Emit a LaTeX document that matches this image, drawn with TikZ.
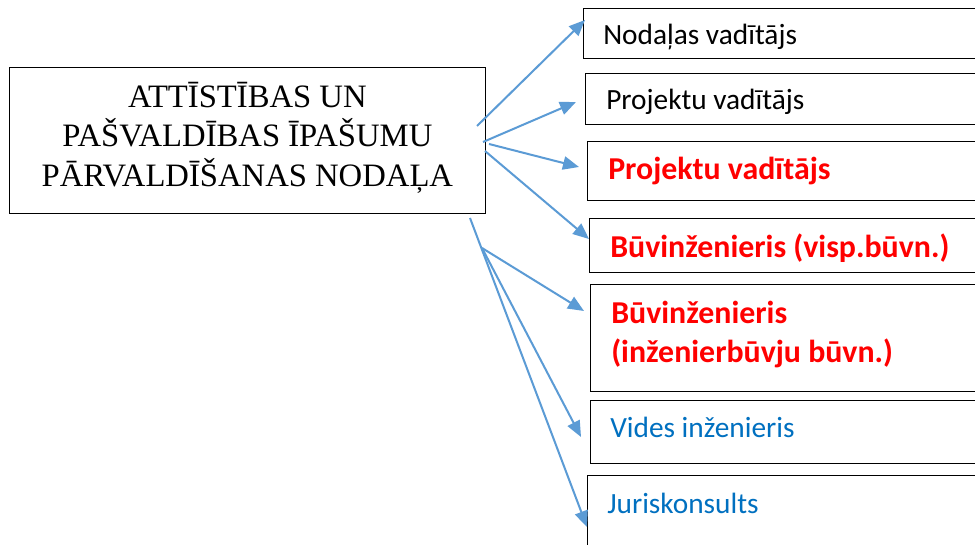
\documentclass[tikz,border=0pt]{standalone}
\usepackage{fontspec}
\setmainfont{Liberation Serif}
\newfontfamily\calib{Carlito}
\usetikzlibrary{arrows.meta}
\definecolor{arrowblue}{HTML}{5B9BD5}
\definecolor{txtred}{HTML}{FF0000}
\definecolor{txtblue}{HTML}{0070C0}
\begin{document}
\begin{tikzpicture}[x=0.75pt,y=-0.75pt,
  box/.style={draw=black,line width=0.9pt,rectangle,inner sep=0pt,anchor=north west},
  lbl/.style={inner sep=0pt,anchor=base west,font=\calib\fontsize{22}{26}\selectfont},
  redlbl/.style={lbl,text=txtred,font=\calib\bfseries\fontsize{23.9}{29.3}\selectfont},
  bluelbl/.style={lbl,text=txtblue},
  arr/.style={draw=arrowblue,line width=1.5pt,-{Triangle[length=12pt,width=10pt]}}]
\useasboundingbox (0,0) rectangle (975,545);
\clip (0,0) rectangle (975,545);
\fill[white] (0,0) rectangle (975,545);
% main box
\node[box,minimum width=357.4pt,minimum height=109.5pt,align=center,
  font=\fontsize{24.5}{29.6}\selectfont] (main) at (8.5,67)
  {ATTĪSTĪBAS UN\\PAŠVALDĪBAS ĪPAŠUMU\\PĀRVALDĪŠANAS NODAĻA\rule[-10pt]{0pt}{10pt}};
% right boxes
\node[box,minimum width=312.75pt,minimum height=37.5pt] (b1) at (583,8) {};
\node[box,minimum width=311.25pt,minimum height=38.25pt] (b2) at (585,73) {};
\node[box,minimum width=309.75pt,minimum height=44.25pt] (b3) at (587,141) {};
\node[box,minimum width=308.25pt,minimum height=40.5pt] (b4) at (589,218) {};
\node[box,minimum width=307.5pt,minimum height=80.25pt] (b5) at (590,284) {};
\node[box,minimum width=307.5pt,minimum height=47.25pt] (b6) at (590,400) {};
\node[box,minimum width=309.75pt,minimum height=75pt] (b7) at (587,475) {};
% labels
\node[lbl] (t1) at (603,45) {Nodaļas vadītājs};
\node[lbl] (t2) at (606,110) {Projektu vadītājs};
\node[redlbl] (t3) at (608,180) {Projektu vadītājs};
\node[redlbl] (t4) at (610,258) {Būvinženieris (visp.būvn.)};
\node[redlbl,align=left,anchor=north west] (t5) at (611,301) {Būvinženieris\\(inženierbūvju būvn.)};
\node[bluelbl] (t6) at (610,437) {Vides inženieris};
\node[bluelbl] (t7) at (607,513) {Juriskonsults};
% connector ends
\coordinate (s1) at (477,126);
\coordinate (s2) at (483,142);
\coordinate (s3) at (489,144);
\coordinate (s4) at (485,151);
\coordinate (s56) at (482,248);
\coordinate (s7) at (470,218);
\coordinate (e1) at (585,20);
\coordinate (e2) at (576,102);
\coordinate (e3) at (579,167);
\coordinate (e4) at (589,239);
\coordinate (e5) at (584,311);
\coordinate (e6) at (581,437);
\coordinate (e7) at (587,527);
\draw[arr] (s1) -- (e1);
\draw[arr] (s2) -- (e2);
\draw[arr] (s3) -- (e3);
\draw[arr] (s4) -- (e4);
\draw[arr] (s56) -- (e5);
\draw[arr] (s56) -- (e6);
\draw[arr] (s7) -- (e7);
\end{tikzpicture}
\end{document}
